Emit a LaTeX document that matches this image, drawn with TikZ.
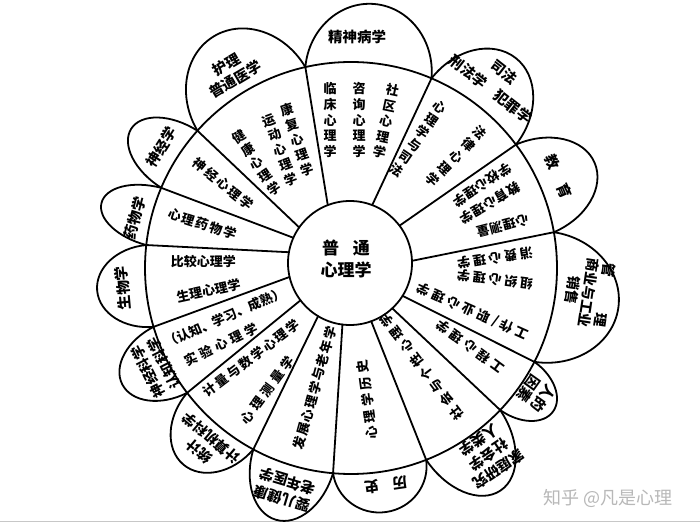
\documentclass[tikz,border=0pt]{standalone}
\usepackage{fontspec}
\setmainfont{Noto Sans CJK SC}
\makeatletter
\newcommand\lsp[2]{\def\lsp@s{#1}\@tfor\lsp@c:=#2\do{\lsp@c\hspace{\lsp@s}}\unskip}
\makeatother
\newcommand\petal[3]{%
  \pgfmathsetmacro\Pmid{(#1+#2)/2}%
  \pgfmathsetmacro\Phalf{(#1-#2)/2}%
  \pgfmathsetmacro\Pcx{206*cos(\Phalf)}%
  \pgfmathsetmacro\Pr{206*sin(\Phalf)}%
  \draw[ln, rotate=\Pmid] (\Pcx,-\Pr) arc[start angle=-90, end angle=90, x radius=#3pt, y radius=\Pr pt];}
\tikzset{
  ln/.style={line width=1.8pt, line join=round, line cap=round},
  pt/.style={font=\fontsize{14.5}{18}\selectfont\bfseries, align=center, inner sep=0pt},
  st/.style={font=\fontsize{13}{15.8}\selectfont\bfseries, align=center, inner sep=0pt},
}
\begin{document}
\begin{tikzpicture}[x=1pt,y=1pt]
\useasboundingbox (-351,-258) rectangle (349,268);
\fill[white] (-351,-258) rectangle (349,268);
\draw[black!22, line width=1pt] (-351,-253) -- (349,-253);
% outer circle and petals
\draw[ln] (0,0) circle[radius=206];
\petal{102.8}{67.0}{69}
\petal{67.0}{36.8}{68}
\petal{36.8}{10.0}{65}
\petal{10.0}{-27.1}{75}
\petal{-27.1}{-43.6}{44}
\petal{-43.6}{-68.6}{67}
\petal{-68.6}{-95.0}{46}
\petal{-95.0}{-118.3}{61}
\petal{-118.3}{-142.7}{57}
\petal{-142.7}{-163.4}{54}
\petal{196.6}{173.6}{53}
\petal{173.6}{157.1}{54}
\petal{157.1}{138.2}{57}
\petal{138.2}{102.8}{73}
% junctions
\foreach \n/\a in {1/102.8,2/67.0,3/36.8,4/10.0,5/-27.1,6/-43.6,7/-68.6,8/-95.0,9/-118.3,10/-142.7,11/-163.4,12/173.6,13/157.1,14/138.2}
  \coordinate (J\n) at (\a:206);
% centre
\node[draw, line width=1.8pt, circle, minimum size=124pt, inner sep=0pt, outer sep=0pt, fill=white] (C) at (-1,5) {};
\foreach \n/\b in {1/111.6,2/69,3/37,4/2.7,5/-32.7,6/-47,7/-70,8/-97,9/-121,10/-143,11/-167,12/170.4,13/156.6,14/145.8}
  \draw[ln] (C.\b) -- (J\n);
\node[font=\fontsize{17}{22}\selectfont\bfseries, align=center, inner sep=0pt] (ct) at (-5,9) {普\hspace{14pt}通\\心理学};
% petal texts
\node[pt] (p1) at (6,231) {精神病学};
\node[pt, font=\fontsize{14.5}{22}\selectfont\bfseries, rotate=-38] (p2) at (52:237.6) {司法\\刑法学\hspace{13pt}犯罪学};
\node[pt, rotate=-66.6] (p3) at (23.8:226.8) {教\hspace{18pt}育};
\node[pt, font=\fontsize{14}{16.5}\selectfont\bfseries, rotate=-98.5] (p4) at (-6:239) {管\hspace{37pt}理\\商业与工业\\销售};
\node[pt, rotate=-125.35] (p5) at (-34.2:223.5) {人的\\因素};
\node[pt, font=\fontsize{14.5}{17.5}\selectfont\bfseries, rotate=-146.1] (p6) at (-53.6:232) {家庭研究\\社会学\\人类学};
\node[pt, rotate=-171.8] (p7) at (-80.8:220) {历\hspace{13pt}史};
\node[pt, rotate=163.35] (p8) at (-106.6:231.6) {婴儿健康\\老年医学};
\node[pt, font=\fontsize{14}{18}\selectfont\bfseries, rotate=139.5] (p9) at (-129.5:229) {统计\\计算机科学};
\node[pt, font=\fontsize{14}{18}\selectfont\bfseries, rotate=116.95] (p10) at (-153:219) {神经科学\\认知科学};
\node[pt, rotate=95.1] (p11) at (-175:229) {生物学};
\node[pt, rotate=75.35] (p12) at (167:221.7) {药物学};
\node[pt, rotate=57.65] (p13) at (147.5:225) {神经学};
\node[pt, font=\fontsize{14.5}{17}\selectfont\bfseries, rotate=30.5] (p14) at (121.5:229.8) {护理\\普通医学};
% sector texts
\node[st] (s1a) at (-21,148) {临\\床\\心\\理\\学};
\node[st] (s1b) at (8,148) {咨\\询\\心\\理\\学};
\node[st, rotate=-12] (s1c) at (35,147) {社\\区\\心\\理\\学};
\node[st, font=\fontsize{13}{15.2}\selectfont\bfseries, rotate=-34.3] (s2a) at (67.5,129.5) {心\\理\\学\\与\\司\\法};
\node[st, font=\fontsize{13}{16.6}\selectfont\bfseries, rotate=-45] (s2b) at (105.5,111.5) {法\\律\\心\\理\\学};
\node[st, rotate=213.4] (s3a) at (131,83) {\lsp{0.5pt}{学校心理学}};
\node[st, rotate=210.5] (s3b) at (139,65) {\lsp{0.5pt}{教育心理学}};
\node[st, rotate=194.6] (s3c) at (152,42) {\lsp{0.5pt}{心理测量}};
\node[st, rotate=189] (s4a) at (144,10) {\lsp{2.8pt}{消费心理学}};
\node[st, rotate=173] (s4b) at (144,-12) {\lsp{2.8pt}{组织心理学}};
\node[st, rotate=155.8] (s4c) at (122,-43) {\lsp{3.5pt}{工作/职业心理学}};
\node[st, rotate=143.5] (s5) at (119,-79) {\lsp{3.8pt}{工程心理学}};
\node[st, rotate=127] (s6) at (71,-98.5) {\lsp{3.6pt}{社会与个性心理学}};
\node[st, rotate=97.8] (s7) at (16.5,-132) {\lsp{3.7pt}{心理学历史}};
\node[st, rotate=74.7] (s8) at (-36,-120) {\lsp{1.3pt}{发展心理学与老年学}};
\node[st, rotate=37.2] (s9a) at (-99.5,-90.5) {\lsp{1.9pt}{计量与数学心理学}};
\node[st, rotate=53.5] (s9b) at (-84,-122) {\lsp{3.8pt}{心理测量学}};
\node[st, rotate=23] (s10a) at (-126,-49.5) {（认知、学习、成熟）};
\node[st, rotate=26] (s10b) at (-130,-76.5) {\lsp{3.5pt}{实验心理学}};
\node[st] (s11a) at (-147.5,6) {比较心理学};
\node[st, rotate=12] (s11b) at (-142.5,-22.5) {生理心理学};
\node[st, rotate=-18] (s12) at (-148.5,44) {\lsp{1.5pt}{心理药物学}};
\node[st, rotate=-39] (s13) at (-127.5,84) {\lsp{2pt}{神经心理学}};
\node[st, rotate=34] (s14a) at (-94.5,105.5) {健\\康\\心\\理\\学};
\node[st, rotate=20.3] (s14b) at (-71,118) {运\\动\\心\\理\\学};
\node[st, rotate=18.4] (s14c) at (-54,128) {康\\复\\心\\理\\学};
% watermark
\node[font=\fontsize{18}{20}\selectfont, text=black!28, inner sep=0pt] (wm) at (257,-230) {知乎 @凡是心理};
\end{tikzpicture}
\end{document}
